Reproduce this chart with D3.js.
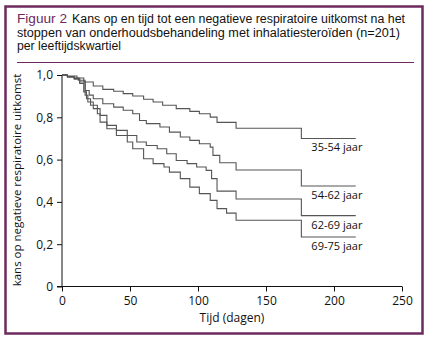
<!DOCTYPE html>
<html><head><meta charset="utf-8">
<script src="https://cdn.jsdelivr.net/npm/d3@7"></script>
<style>body{margin:0;background:#fff}svg{display:block}</style>
</head><body>
<script>
// ---- data ----
const seriesNames = ["35-54 jaar", "54-62 jaar", "62-69 jaar", "69-75 jaar"];
const days35 = [0,4,11,16,23,30,38,45,52,60,67,74,84,94,101,109,114,128,176,216];
const surv35 = [1.0,0.995,0.986,0.967,0.948,0.932,0.923,0.912,0.901,0.885,0.872,0.857,0.841,0.828,0.817,0.801,0.776,0.748,0.70,0.70];
const days54 = [0,4,9,12,17,20,23,30,38,45,52,57,62,72,79,87,94,101,109,111,116,128,176,216];
const surv54 = [1.0,0.993,0.985,0.975,0.927,0.905,0.888,0.864,0.848,0.833,0.817,0.785,0.770,0.754,0.730,0.707,0.691,0.675,0.659,0.620,0.585,0.551,0.475,0.475];
const days62 = [0,4,9,13,17,19,23,28,33,40,48,55,62,70,77,84,92,99,106,110,114,128,176,216];
const surv62 = [1.0,0.992,0.984,0.967,0.904,0.872,0.841,0.809,0.762,0.738,0.714,0.683,0.667,0.651,0.628,0.596,0.581,0.565,0.549,0.51,0.451,0.414,0.335,0.335];
const days69 = [0,4,9,13,16,18,21,26,28,33,40,48,52,60,67,75,79,87,94,101,109,114,121,128,176,216];
const surv69 = [1.0,0.99,0.98,0.96,0.92,0.888,0.857,0.817,0.777,0.746,0.714,0.683,0.651,0.604,0.581,0.565,0.541,0.51,0.47,0.439,0.407,0.368,0.347,0.313,0.234,0.234];
const xTicks = [0,50,100,150,200,250];
const yTicks = [0,0.2,0.4,0.6,0.8,1.0];
const yTickLabels = ["0","0,2","0,4","0,6","0,8","1,0"];
const titleLines = ["Kans op en tijd tot een negatieve respiratoire uitkomst na het",
  "stoppen van onderhoudsbehandeling met inhalatiesteroïden (n=201)",
  "per leeftijdskwartiel"];

const series = [
  {name: seriesNames[0], d: days35, s: surv35},
  {name: seriesNames[1], d: days54, s: surv54},
  {name: seriesNames[2], d: days62, s: surv62},
  {name: seriesNames[3], d: days69, s: surv69}
];

const W = 430, H = 337;
const purple = "#6e2a5e";
const svg = d3.select("body").append("svg").attr("width", W).attr("height", H)
  .style("font-family", "'Open Sans', sans-serif");

svg.append("rect").attr("x", 5.5).attr("y", 6.5).attr("width", 417).attr("height", 327)
  .attr("fill", "none").attr("stroke", purple).attr("stroke-width", 2.5);

// title
const tf = "'Liberation Sans', Arial, sans-serif";
const t = svg.append("text").attr("y", 23).attr("font-size", 12).attr("font-family", tf).attr("fill", "#111");
t.append("tspan").attr("x", 17).attr("fill", purple).attr("textLength", 50)
  .attr("lengthAdjust", "spacingAndGlyphs").text("Figuur 2");
t.append("tspan").attr("x", 72).attr("textLength", 333)
  .attr("lengthAdjust", "spacingAndGlyphs").text(titleLines[0]);
svg.append("text").attr("x", 17).attr("y", 36.5).attr("font-size", 12).attr("font-family", tf)
  .attr("fill", "#111").attr("textLength", 383).attr("lengthAdjust", "spacingAndGlyphs").text(titleLines[1]);
svg.append("text").attr("x", 17).attr("y", 50).attr("font-size", 12).attr("font-family", tf)
  .attr("fill", "#111").attr("textLength", 104).attr("lengthAdjust", "spacingAndGlyphs").text(titleLines[2]);
svg.append("line").attr("x1", 17).attr("x2", 414).attr("y1", 62.5).attr("y2", 62.5)
  .attr("stroke", purple).attr("stroke-width", 1);

const x = d3.scaleLinear().domain([0, 250]).range([62, 402]);
const y = d3.scaleLinear().domain([0, 1]).range([286.5, 75]);

const xAxis = svg.append("g").attr("transform", "translate(0,286.5)")
  .call(d3.axisBottom(x).tickValues(xTicks).tickSize(5).tickPadding(5));
xAxis.select(".domain").attr("d", `M57,0H${x(250)}`);
const yAxis = svg.append("g").attr("transform", "translate(62,0)")
  .call(d3.axisLeft(y).tickValues(yTicks).tickFormat((d, i) => yTickLabels[i]).tickSize(5).tickPadding(4));
yAxis.select(".domain").attr("d", `M0,${y(0)}V${y(1)}`);
[xAxis, yAxis].forEach(g => {
  g.selectAll("text").attr("font-size", 12).attr("font-family", "'Open Sans', sans-serif").attr("fill", "#111");
  g.selectAll("line,path").attr("stroke", "#111");
});

const line = d3.line().x(p => x(p[0])).y(p => y(p[1])).curve(d3.curveStepAfter);
series.forEach(sr => {
  const pts = sr.d.map((dd, i) => [dd, sr.s[i]]);
  svg.append("path").attr("d", line(pts)).attr("fill", "none")
    .attr("stroke", "#555").attr("stroke-width", 1.1);
  const last = pts[pts.length - 1];
  svg.append("text").attr("x", x(176) + 10).attr("y", y(last[1]) + 13)
    .attr("font-size", 11).attr("fill", "#111").text(sr.name);
});

svg.append("text").attr("x", 232).attr("y", 322).attr("text-anchor", "middle")
  .attr("font-size", 12).attr("fill", "#111").text("Tijd (dagen)");
svg.append("text").attr("transform", "translate(21,180) rotate(-90)").attr("text-anchor", "middle")
  .attr("font-size", 11.5).attr("fill", "#111").text("kans op negatieve respiratoire uitkomst");
</script>
</body></html>
